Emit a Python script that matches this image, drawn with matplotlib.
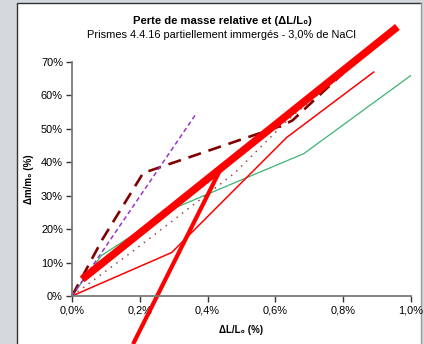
import matplotlib.pyplot as plt
from matplotlib.patches import Rectangle
from matplotlib.lines import Line2D
from matplotlib.ticker import FuncFormatter

plt.rcParams['font.family'] = ['Liberation Sans', 'DejaVu Sans']

# dL/L0 (%) and dm/m0 (%) for each prism
green_x = [0, 0.087, 0.30, 0.684, 1.0]
green_y = [0, 12.1, 26.2, 42.6, 66.0]
red_x = [0, 0.294, 0.633, 0.89]
red_y = [0, 13.0, 47.4, 67.0]
dot_x = [0, 0.19, 0.48, 0.633, 0.81]
dot_y = [0, 14.2, 36.8, 52.3, 67.6]
dash_x = [0, 0.09, 0.21, 0.62, 0.65, 0.82]
dash_y = [0, 17.0, 36.8, 51.0, 52.5, 68.6]
purple_x = [0, 0.176, 0.368]
purple_y = [0, 26.2, 54.8]
# hand drawn lines on the chart
trend_x = [0.03, 0.96]
trend_y = [5.0, 80.5]
steep_x = [0.44, 0.18]
steep_y = [38.3, -14.4]

xticks = [0, 0.2, 0.4, 0.6, 0.8, 1.0]
yticks = [0, 10, 20, 30, 40, 50, 60, 70]

W, H = 424, 344
fig = plt.figure(figsize=(W / 100, H / 100), dpi=100)
fig.patch.set_facecolor('#d5d9dc')

# white chart panel
fig.patches.append(Rectangle((17 / W, -0.05), (421 - 17) / W, 1.05 - 3 / H,
                             transform=fig.transFigure, facecolor='white',
                             edgecolor='none', zorder=-2))
fig.lines.append(Line2D([17 / W, 17 / W, 421 / W], [0, 1 - 3 / H, 1 - 3 / H],
                        transform=fig.transFigure, color='#333333', lw=1, zorder=-1))
fig.lines.append(Line2D([421 / W, 421 / W], [0, 1 - 3 / H],
                        transform=fig.transFigure, color='#9a9a9a', lw=1, zorder=-1))

ax = fig.add_axes([72 / W, 1 - 296 / H, 339 / W, 234 / H])
ax.set_zorder(2)
ax.set_facecolor('none')

ax.plot(green_x, green_y, color='#3cb371', lw=0.9)
ax.plot(red_x, red_y, color='#ff0000', lw=1.1)
ax.plot(dot_x, dot_y, color='#a0474b', lw=1.1, ls=(0, (1, 3.5)))
ax.plot(dash_x, dash_y, color='#800000', lw=1.9, ls=(0, (5, 3)), clip_on=False)
ax.plot(purple_x, purple_y, color='#9933cc', lw=1.1, ls=(0, (3, 2)), clip_on=False)
ax.plot(trend_x, trend_y, color='#ff0000', lw=5.4, solid_capstyle='butt', clip_on=False)
ax.plot(steep_x, steep_y, color='#ff0000', lw=3.0, solid_capstyle='butt', clip_on=False)

ax.set_xlim(0, 1.0)
ax.set_ylim(0, 70)
ax.set_xticks(xticks)
ax.set_yticks(yticks)
ax.xaxis.set_major_formatter(FuncFormatter(lambda v, _: f"{v:.1f}%".replace('.', ',')))
ax.yaxis.set_major_formatter(FuncFormatter(lambda v, _: f"{v:.0f}%"))
for s in ['top', 'right']:
    ax.spines[s].set_visible(False)
for s in ['left', 'bottom']:
    ax.spines[s].set_color('#7a7a7a')
    ax.spines[s].set_linewidth(1.3)
ax.tick_params(direction='out', length=4, width=1, color='#333333',
               labelsize=7.9, pad=2.5)

ax.set_xlabel('ΔL/L₀ (%)', fontsize=7, fontweight='bold', labelpad=7)
ax.set_ylabel('Δm/m₀ (%)', fontsize=7, fontweight='bold', labelpad=5)

fig.text(222 / W, 1 - 21 / H, 'Perte de masse relative et (ΔL/L₀)',
         ha='center', va='center', fontsize=8.1, fontweight='bold')
fig.text(221 / W, 1 - 35 / H, 'Prismes 4.4.16 partiellement immergés - 3,0% de NaCl',
         ha='center', va='center', fontsize=7.9)

fig.savefig('out.png', dpi=100)
